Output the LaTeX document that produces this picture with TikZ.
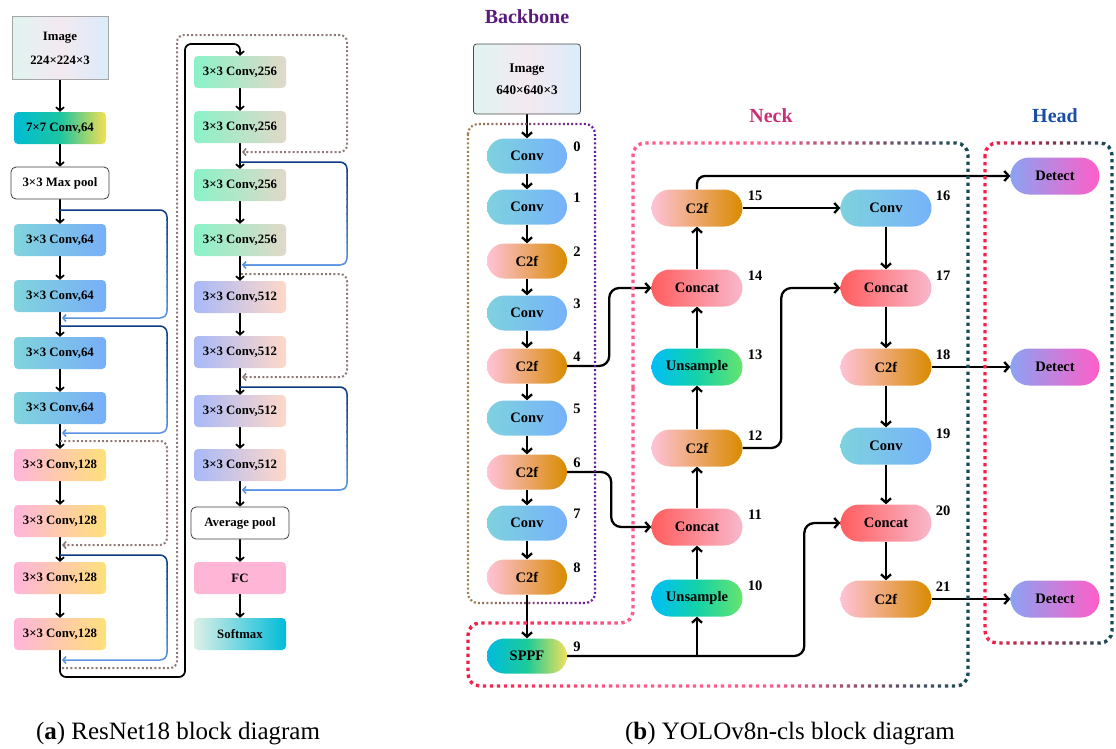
\documentclass[tikz,border=0pt]{standalone}
\usepackage{fontspec}
\setmainfont{Liberation Serif}
\usetikzlibrary{arrows.meta,calc}
\pgfdeclarelayer{bg}
\pgfsetlayers{bg,main}

\definecolor{navyc}{HTML}{0B3A85}
\definecolor{lblue}{HTML}{5B94E2}
\definecolor{dotg}{HTML}{8F7A78}
\definecolor{convL}{HTML}{80D4DC}\definecolor{convR}{HTML}{78AEF8}
\definecolor{cbL}{HTML}{FFB5DA}\definecolor{cbR}{HTML}{FFE07A}
\definecolor{ccL}{HTML}{8AF2C8}\definecolor{ccR}{HTML}{E2D8C8}
\definecolor{cdL}{HTML}{A9B9F8}\definecolor{cdR}{HTML}{FFD8C8}
\definecolor{fcC}{HTML}{FFB6D6}
\definecolor{smL}{HTML}{DDF0E8}\definecolor{smR}{HTML}{00BCD8}
\definecolor{c7L}{HTML}{00BCD4}\definecolor{c7M}{HTML}{1CC6A0}\definecolor{c7R}{HTML}{F7DE52}
\definecolor{imgL}{HTML}{E0F4F0}\definecolor{imgM}{HTML}{F4E9F0}\definecolor{imgR}{HTML}{DAECFA}
\definecolor{bconvL}{HTML}{7ED2DE}\definecolor{bconvR}{HTML}{76B2FA}
\definecolor{c2fL}{HTML}{FFC2D8}\definecolor{c2fR}{HTML}{D98B00}
\definecolor{catL}{HTML}{FF5E5E}\definecolor{catR}{HTML}{F8B8CC}
\definecolor{unsL}{HTML}{00BEF6}\definecolor{unsM}{HTML}{14D2A8}\definecolor{unsR}{HTML}{66E46E}
\definecolor{spL}{HTML}{00BCDC}\definecolor{spM}{HTML}{1CCB98}\definecolor{spR}{HTML}{F4E05A}
\definecolor{detL}{HTML}{8CA2F2}\definecolor{detR}{HTML}{FF5EC8}
\definecolor{bbtitle}{HTML}{5A1A7D}
\definecolor{necktitle}{HTML}{C62F74}
\definecolor{headtitle}{HTML}{1A4DA6}
\definecolor{olive}{HTML}{9C8450}
\definecolor{purp}{HTML}{6A1A9A}
\definecolor{nred}{HTML}{F01E46}
\definecolor{npink}{HTML}{FF5C8C}
\definecolor{nteal}{HTML}{164A54}
\definecolor{hred}{HTML}{FF1A48}

% horizontal colour gradient along a drawn path (clip strips)
\newcommand{\hgrad}[6]{%
\foreach \k in {0,...,15}{%
\pgfmathsetmacro\xa{#1+(#2-#1)*\k/16}%
\pgfmathsetmacro\xb{#1+(#2-#1)*(\k+1)/16}%
\pgfmathtruncatemacro\p{100-100*\k/15}%
\colorlet{gc}{#3!\p!#4}%
\begin{scope}\clip (\xa-0.2,-10) rectangle (\xb+0.2,760);\draw[#5,gc] #6;\end{scope}}}
% vertical colour gradient along a drawn path
\newcommand{\vgrad}[6]{%
\foreach \k in {0,...,15}{%
\pgfmathsetmacro\ya{#1+(#2-#1)*\k/16}%
\pgfmathsetmacro\yb{#1+(#2-#1)*(\k+1)/16}%
\pgfmathtruncatemacro\p{100-100*\k/15}%
\colorlet{gc}{#3!\p!#4}%
\begin{scope}\clip (-5,\ya-0.2) rectangle (1120,\yb+0.2);\draw[#5,gc] #6;\end{scope}}}

\begin{document}
\begin{tikzpicture}[x=1pt,y=-1pt,
  every node/.style={inner sep=0pt},
  abox/.style={rectangle,rounded corners=4pt,minimum width=92pt,minimum height=32pt,font=\bfseries\fontsize{12.8}{14}\selectfont},
  wbox/.style={abox,draw=black!75,line width=0.8pt,fill=white,rounded corners=5pt,minimum width=98pt},
  pill/.style={rectangle,rounded corners=17.5pt,minimum width=80pt,minimum height=35pt,font=\bfseries\fontsize{14.5}{16}\selectfont},
  npill/.style={pill,rounded corners=18.5pt,minimum width=91pt,minimum height=37pt},
  lbl/.style={font=\bfseries\fontsize{14.5}{16}\selectfont},
  ttl/.style={font=\bfseries\fontsize{20}{22}\selectfont},
  arrA/.style={line width=1.7pt,-{Straight Barb[length=3.5pt,width=8pt]}},
  arrB/.style={line width=2.3pt,-{Straight Barb[length=4.5pt,width=10pt]}},
  skipB/.style={line width=1.5pt,rounded corners=7pt,-{Straight Barb[length=3pt,width=7pt]}},
  skipD/.style={line width=2pt,dash pattern=on 2pt off 2.2pt,rounded corners=7pt,-{Straight Barb[length=3pt,width=7pt,line width=1.6pt]},dotg},
  bdot/.style={line width=2.2pt,dash pattern=on 2pt off 2.2pt},
  ndot/.style={line width=3.4pt,dash pattern=on 3.4pt off 3.6pt}
]
\useasboundingbox (0,0) rectangle (1116,748);

%================ (a) ResNet18 =================
\node[rectangle,draw=black!35,line width=0.6pt,minimum width=96pt,minimum height=63pt,
  left color=imgL,right color=imgR,middle color=imgM,align=center,
  font=\bfseries\fontsize{12.8}{24}\selectfont] (imgA) at (60,48) {Image\\224×224×3};
\node[abox,left color=c7L,right color=c7R,middle color=c7M] (c7) at (60,128) {7×7 Conv,64};
\node[wbox] (mp) at (60,183) {3×3 Max pool};
\foreach \n/\y in {a1/240,a2/296,a3/353,a4/408}
  \node[abox,left color=convL,right color=convR] (\n) at (60,\y) {3×3 Conv,64};
\foreach \n/\y in {b1/465,b2/521,b3/578,b4/634}
  \node[abox,left color=cbL,right color=cbR] (\n) at (60,\y) {3×3 Conv,128};
\foreach \n/\y in {c1/72,c2/127,c3/185,c4/240}
  \node[abox,left color=ccL,right color=ccR] (\n) at (240,\y) {3×3 Conv,256};
\foreach \n/\y in {d1/297,d2/352,d3/411,d4/465}
  \node[abox,left color=cdL,right color=cdR] (\n) at (240,\y) {3×3 Conv,512};
\node[wbox] (avg) at (240,523) {Average pool};
\node[abox,fill=fcC] (fc) at (240,578) {FC};
\node[abox,left color=smL,right color=smR] (sm) at (240,634) {Softmax};

\coordinate (s1a) at (60,210); \coordinate (s1b) at (62,318);
\coordinate (s2a) at (60,326); \coordinate (s2b) at (62,433);
\coordinate (s3a) at (60,441); \coordinate (s3b) at (62,545);
\coordinate (s4a) at (60,555); \coordinate (s4b) at (62,660);
\coordinate (s5a) at (62,668); \coordinate (s5b) at (242,152);
\coordinate (s6a) at (240,162); \coordinate (s6b) at (242,265);
\coordinate (s7a) at (241,274); \coordinate (s7b) at (242,377);
\coordinate (s8a) at (240,387); \coordinate (s8b) at (242,490);

%================ (b) YOLOv8n-cls =================
\node[ttl,text=bbtitle] (tB) at (527,17) {Backbone};
\node[ttl,text=necktitle] (tN) at (771,116) {Neck};
\node[ttl,text=headtitle] (tH) at (1055,116) {Head};

% dotted group frames
\hgrad{464}{600}{olive}{purp}{bdot,rounded corners=10pt}{(468,124) rectangle (595,603)}
\hgrad{460}{634}{nred}{npink}{ndot,rounded corners=12pt}{(633,400) -- (633,143) -- (968,143) -- (968,686) -- (468,686) -- (468,623) -- (633,623) -- cycle}
\hgrad{634}{760}{npink}{npink}{ndot,rounded corners=12pt}{(633,400) -- (633,143) -- (968,143) -- (968,686) -- (468,686) -- (468,623) -- (633,623) -- cycle}
\hgrad{760}{975}{npink}{nteal}{ndot,rounded corners=12pt}{(633,400) -- (633,143) -- (968,143) -- (968,686) -- (468,686) -- (468,623) -- (633,623) -- cycle}
\hgrad{980}{1116}{hred}{nteal}{ndot,rounded corners=12pt}{(985,143) rectangle (1112,643)}

\node[rectangle,rounded corners=3pt,draw=black!70,line width=0.8pt,minimum width=107pt,minimum height=70pt,
  left color=imgL,right color=imgR,middle color=imgM,align=center,
  font=\bfseries\fontsize{13.2}{22}\selectfont] (imgB) at (527,79) {Image\\640×640×3};

\foreach \n/\y/\t in {n0/156/0,n1/207/1,n3/313/3,n5/418/5,n7/523/7}{
  \node[pill,left color=bconvL,right color=bconvR] (\n) at (527,\y) {Conv};
  \node[lbl] (l\t) at (577,\y-9) {\t};}
\foreach \n/\y/\t in {n2/261/2,n4/366/4,n6/472/6,n8/577/8}{
  \node[pill,left color=c2fL,right color=c2fR] (\n) at (527,\y) {C2f};
  \node[lbl] (l\t) at (577,\y-9) {\t};}
\node[pill,left color=spL,right color=spR,middle color=spM] (n9) at (527,656) {SPPF};
\node[lbl] (l9) at (577,647) {9};

\node[npill,left color=c2fL,right color=c2fR] (n15) at (697,208) {C2f};
\node[npill,left color=catL,right color=catR] (n14) at (697,288) {Concat};
\node[npill,left color=unsL,right color=unsR,middle color=unsM] (n13) at (697,367) {Unsample};
\node[npill,left color=c2fL,right color=c2fR] (n12) at (697,448) {C2f};
\node[npill,left color=catL,right color=catR] (n11) at (697,527) {Concat};
\node[npill,left color=unsL,right color=unsR,middle color=unsM] (n10) at (697,598) {Unsample};
\foreach \t/\y in {15/208,14/288,13/367,12/448,11/527,10/598}
  \node[lbl] (l\t) at (755,\y-12) {\t};

\node[npill,left color=bconvL,right color=bconvR] (n16) at (886,208) {Conv};
\node[npill,left color=catL,right color=catR] (n17) at (886,288) {Concat};
\node[npill,left color=c2fL,right color=c2fR] (n18) at (886,367) {C2f};
\node[npill,left color=bconvL,right color=bconvR] (n19) at (886,446) {Conv};
\node[npill,left color=catL,right color=catR] (n20) at (886,523) {Concat};
\node[npill,left color=c2fL,right color=c2fR] (n21) at (886,599) {C2f};
\foreach \t/\y in {16/208,17/288,18/367,19/446,20/523,21/599}
  \node[lbl] (l\t) at (943,\y-12) {\t};

\node[npill,minimum width=89pt,left color=detL,right color=detR] (h1) at (1055,176) {Detect};
\node[npill,minimum width=89pt,left color=detL,right color=detR] (h2) at (1055,367) {Detect};
\node[npill,minimum width=89pt,left color=detL,right color=detR] (h3) at (1055,599) {Detect};

% captions
\node[anchor=base,font=\fontsize{25}{27}\selectfont] (capA) at (178,739) {(\textbf{a}) ResNet18 block diagram};
\node[anchor=base,font=\fontsize{25}{27}\selectfont] (capB) at (790,739) {(\textbf{b}) YOLOv8n-cls block diagram};

%================ connectors =================
\begin{pgfonlayer}{bg}
% (a)
\foreach \a/\b in {imgA/c7,c7/mp,mp/a1,a1/a2,a2/a3,a3/a4,a4/b1,b1/b2,b2/b3,b3/b4,
  c1/c2,c2/c3,c3/c4,c4/d1,d1/d2,d2/d3,d3/d4,d4/avg,avg/fc,fc/sm}
  \draw[arrA] (\a) -- (\b);
\draw[arrA,rounded corners=6pt] (b4.south) -- (60,677) -- (185,677) -- (185,44) -- (240,44) -- (c1.north);
\vgrad{205}{324}{navyc}{lblue}{skipB}{(s1a) -- (167,210) -- (167,318) -- (s1b)}
\vgrad{321}{439}{navyc}{lblue}{skipB}{(s2a) -- (167,326) -- (167,433) -- (s2b)}
\draw[skipD] (s3a) -- (167,441) -- (167,545) -- (s3b);
\vgrad{550}{666}{navyc}{lblue}{skipB}{(s4a) -- (167,555) -- (167,660) -- (s4b)}
\draw[skipD] (s5a) -- (177,668) -- (177,35) -- (347,35) -- (347,152) -- (s5b);
\vgrad{157}{271}{navyc}{lblue}{skipB}{(s6a) -- (347,162) -- (347,265) -- (s6b)}
\draw[skipD] (s7a) -- (347,274) -- (347,377) -- (s7b);
\vgrad{382}{496}{navyc}{lblue}{skipB}{(s8a) -- (347,387) -- (347,490) -- (s8b)}
% (b)
\foreach \a/\b in {imgB/n0,n0/n1,n1/n2,n2/n3,n3/n4,n4/n5,n5/n6,n6/n7,n7/n8,n8/n9,
  n10/n11,n11/n12,n12/n13,n13/n14,n14/n15,
  n16/n17,n17/n18,n18/n19,n19/n20,n20/n21}
  \draw[arrB] (\a) -- (\b);
\draw[arrB] (n15.east) -- (n16.west);
\draw[arrB] (n18.east) -- (h2.west);
\draw[arrB] (n21.east) -- (h3.west);
\draw[arrB,rounded corners=10pt] (n4.east) -- ++(42,0) |- (n14.west);
\draw[arrB,rounded corners=10pt] (n6.east) -- ++(44,0) |- (n11.west);
\draw[arrB,rounded corners=10pt] (n9.east) -| ([xshift=-36pt]n20.west) -- (n20.west);
\draw[arrB] (n10.south |- n9.east) -- (n10.south);
\draw[arrB,rounded corners=10pt] (n12.east) -| ([xshift=-59pt]n17.west) -- (n17.west);
\draw[arrB,rounded corners=8pt] (n15.north) |- (h1.west);
\end{pgfonlayer}
\end{tikzpicture}
\end{document}
